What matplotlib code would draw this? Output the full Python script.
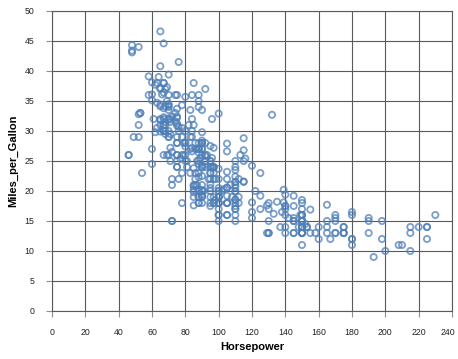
import matplotlib
matplotlib.use("Agg")
import matplotlib.pyplot as plt
import matplotlib.transforms as mtransforms
import numpy as np

horsepower = [130,165,150,150,140,198,220,215,225,190,170,160,150,225,95,95,97,85,88,46,87,90,95,113,90,215,200,210,193,
    88,90,95,None,100,105,100,88,100,165,175,153,150,180,170,175,110,72,100,88,86,90,70,76,65,69,60,70,95,80,54,90,86,
    165,175,150,153,150,208,155,160,190,97,150,130,140,150,112,76,87,69,86,92,97,80,88,
    175,150,145,137,150,198,150,158,150,215,225,175,105,100,100,88,95,46,150,167,170,180,100,88,72,94,90,85,107,90,145,230,49,75,91,112,150,110,122,180,
    95,None,100,100,67,80,65,75,100,110,105,140,150,150,140,150,83,67,78,52,61,75,75,75,97,93,67,
    95,105,72,72,170,145,150,148,110,105,110,95,110,110,129,75,83,100,78,96,71,97,97,70,90,95,88,98,115,53,86,81,92,79,83,
    140,150,120,152,100,105,81,90,52,60,70,53,100,78,110,95,71,70,75,72,102,150,88,108,120,180,145,130,150,68,80,58,96,70,
    145,110,145,130,110,105,100,98,180,170,190,149,78,88,75,89,63,83,67,78,97,110,110,
    48,66,52,70,60,110,140,139,105,95,85,88,100,90,105,85,110,120,145,165,139,140,68,95,97,75,95,105,85,97,103,125,115,133,71,68,
    115,85,88,90,110,130,129,138,135,155,142,125,150,71,65,80,80,77,125,71,90,70,70,65,69,90,115,115,90,76,60,70,65,90,88,90,90,78,90,75,92,75,65,105,65,48,48,67,67,67,None,67,62,132,100,88,None,
    72,84,84,92,110,84,58,64,60,67,65,62,68,63,65,65,74,None,75,75,100,74,80,76,116,120,110,105,88,85,
    88,88,88,85,84,90,92,None,74,68,68,63,70,88,75,70,67,67,67,110,85,92,112,96,84,90,86,52,84,79,82]

miles_per_gallon = [18,15,18,16,17,15,14,14,14,15,15,14,15,14,24,22,18,21,27,26,25,24,25,26,21,10,10,11,9,
    27,28,25,25,19,16,17,19,18,14,14,14,14,12,13,13,18,22,19,18,23,28,30,30,31,35,27,26,24,25,23,20,21,
    13,14,15,14,17,11,13,12,13,19,15,13,13,14,18,22,21,26,22,28,23,28,27,
    13,14,13,14,15,12,13,13,14,13,12,13,18,16,18,18,23,26,11,12,13,12,18,20,21,22,18,19,21,26,15,16,29,24,20,19,15,24,20,11,
    20,21,19,15,31,26,32,25,16,16,18,16,13,14,14,14,29,26,26,31,32,28,24,26,24,26,31,
    19,18,15,15,16,15,16,14,17,16,15,18,21,20,13,29,23,20,23,24,25,24,18,29,19,23,23,22,25,33,28,25,25,26,27,
    17.5,16,15.5,14.5,22,22,24,22.5,29,24.5,29,33,20,18,18.5,17.5,29.5,32,28,26.5,20,13,19,19,16.5,16.5,13,13,13,31.5,30,36,25.5,33.5,
    17.5,17,15.5,15,17.5,20.5,19,18.5,16,15.5,15.5,16,29,24.5,26,25.5,30.5,33.5,30,30.5,22,21.5,21.5,
    43.1,36.1,32.8,39.4,36.1,19.9,19.4,20.2,19.2,20.5,20.2,25.1,20.5,19.4,20.6,20.8,18.6,18.1,19.2,17.7,18.1,17.5,30,27.5,27.2,30.9,21.1,23.2,23.8,23.9,20.3,17,21.6,16.2,31.5,29.5,
    21.5,19.8,22.3,20.2,20.6,17,17.6,16.5,18.2,16.9,15.5,19.2,18.5,31.9,34.1,35.7,27.4,25.4,23,27.2,23.9,34.2,34.5,31.8,37.3,28.4,28.8,26.8,33.5,41.5,38.1,32.1,37.2,28,26.4,24.3,19.1,34.3,29.8,31.3,37,32.2,46.6,27.9,40.8,44.3,43.4,36.4,30,44.6,40.9,33.8,29.8,32.7,23.7,35,23.6,
    32.4,27.2,26.6,25.8,23.5,30,39.1,39,35.1,32.3,37,37.7,34.1,34.7,34.4,29.9,33,34.5,33.7,32.4,32.9,31.6,28.1,30.7,25.4,24.2,22.4,26.6,20.2,17.6,
    28,27,34,31,29,27,24,23,36,37,31,38,36,36,36,34,38,32,38,25,38,26,22,32,36,27,27,44,32,28,31]

x_ticks = list(range(0, 241, 20))
y_ticks = list(range(0, 51, 5))

pairs = [(h, m) for h, m in zip(horsepower, miles_per_gallon) if h is not None and m is not None]
hp = np.array([p[0] for p in pairs], dtype=float)
mpg = np.array([p[1] for p in pairs], dtype=float)

plt.rcParams['font.family'] = ['Liberation Sans', 'DejaVu Sans']

fig = plt.figure(figsize=(4.58, 3.59), dpi=100)
ax = fig.add_axes([52/458, 48/359, 400/458, 300/359])

grid_color = '#5a5a5a'
ax.set_xlim(0, 240)
ax.set_ylim(0, 50)
ax.set_xticks(x_ticks)
ax.set_yticks(y_ticks)
ax.grid(True, color=grid_color, linewidth=0.8)
ax.set_axisbelow(True)
for s in ax.spines.values():
    s.set_color(grid_color)
    s.set_linewidth(0.8)

ax.scatter(hp, mpg, s=20, facecolors='none', edgecolors='#4f7fb8', linewidths=1.3, alpha=0.75, zorder=3)

ax.tick_params(axis='x', direction='out', length=4.5, width=0.8, color='#909090', pad=8, labelsize=6.3, labelcolor='#222222')
ax.tick_params(axis='y', direction='out', length=4.5, width=0.8, color='#909090', pad=8, labelsize=6.3, labelcolor='#222222')

# shift last x label left so it fits like the reference
last = ax.get_xticklabels()[-1]
last.set_transform(last.get_transform() + mtransforms.ScaledTranslation(-4/100, 0, fig.dpi_scale_trans))

ax.set_xlabel('Horsepower', fontsize=8, fontweight='bold', labelpad=3)
ax.set_ylabel('Miles_per_Gallon', fontsize=8, fontweight='bold', labelpad=5)

fig.savefig('out.png', dpi=100)
